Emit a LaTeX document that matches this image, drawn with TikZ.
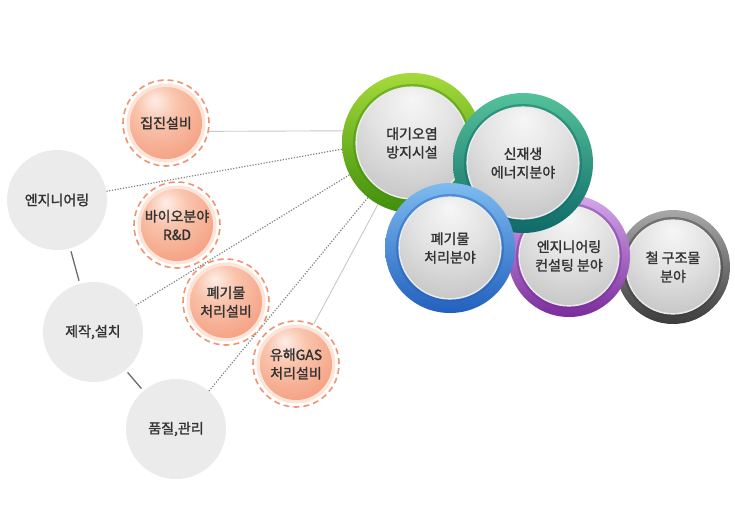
\documentclass[tikz,border=0pt]{standalone}
\usepackage{fontspec}
\newfontfamily\kr[BoldFont={Noto Sans CJK KR}, BoldFeatures={FakeBold=1.5}]{Noto Sans CJK KR}
\usetikzlibrary{backgrounds}
\definecolor{txt}{HTML}{333333}
\definecolor{grayfill}{HTML}{EBEBEB}
\definecolor{peachA}{HTML}{F9C4AC}
\definecolor{peachB}{HTML}{F29272}
\definecolor{peachC}{HTML}{E97553}
\definecolor{halo}{HTML}{FCE4D9}
\definecolor{dashc}{HTML}{F2936F}
\definecolor{grA}{HTML}{A5DA3A}
\definecolor{grB}{HTML}{3F8E0C}
\definecolor{tlA}{HTML}{55C29A}
\definecolor{tlB}{HTML}{0E6A68}
\definecolor{blA}{HTML}{7DBBF0}
\definecolor{blB}{HTML}{2260BE}
\definecolor{puA}{HTML}{D4A8EA}
\definecolor{puB}{HTML}{7A2C9C}
\definecolor{stA}{HTML}{A8A8A8}
\definecolor{stB}{HTML}{3C3C3C}
\definecolor{s0}{HTML}{F6F6F6}
\definecolor{s1}{HTML}{E3E3E3}
\definecolor{s2}{HTML}{C2C2C2}
\definecolor{s3}{HTML}{959595}
\definecolor{s4}{HTML}{878787}
\definecolor{s5}{HTML}{ABABAB}
\pgfdeclareradialshading{silver}{\pgfpoint{0bp}{20bp}}{color(0bp)=(s0); color(18bp)=(s1); color(40bp)=(s2); color(56bp)=(s3); color(67bp)=(s4); color(71bp)=(s5); color(80bp)=(s5)}
\pgfdeclareradialshading{peach}{\pgfpoint{-8bp}{16bp}}{color(0bp)=(white!70!peachA); color(14bp)=(peachA); color(45bp)=(peachB); color(66bp)=(peachC); color(80bp)=(peachC)}
\tikzset{
  lbl/.style={text=txt, font=\kr\bfseries\fontsize{14}{18.5}\selectfont, align=center},
  graycirc/.style={lbl, circle, fill=grayfill, minimum size=100pt, inner sep=0pt},
  orangecirc/.style={lbl, circle, minimum size=86pt, inner sep=0pt, fill=white,
    draw=dashc, line width=1.6pt, dash pattern=on 6pt off 4pt,
    path picture={
      \fill[halo] (path picture bounding box.center) circle[radius=39.5pt];
      \shade[shading=peach] (path picture bounding box.center) circle[radius=36pt];
    }},
  bigring/.style n args={4}{lbl, circle, minimum size=#1, inner sep=0pt,
    top color=#2, bottom color=#3,
    path picture={
      \fill[#3, opacity=0.45] (path picture bounding box.center) circle[radius=#4pt+4pt];
      \fill[white!92!black] (path picture bounding box.center) circle[radius=#4pt+1.6pt];
      \shade[shading=silver] (path picture bounding box.center) circle[radius=#4pt];
    }},
  solidlink/.style={draw=black!22, line width=0.9pt},
  dotlink/.style={draw=black!50, line width=1.2pt, dash pattern=on 1.2pt off 1.6pt},
  chain/.style={draw=black!58, line width=1.3pt, shorten >=3pt, shorten <=3pt}
}
\begin{document}
\begin{tikzpicture}[x=1pt,y=-1pt]
\useasboundingbox (0,0) rectangle (735,512);
% left gray circles
\node[graycirc] (eng) at (57,200) {엔지니어링};
\node[graycirc] (make) at (93,332) {제작,설치};
\node[graycirc] (qual) at (176,429) {품질,관리};
% orange circles
\node[orangecirc] (dust) at (166,123) {집진설비};
\node[orangecirc] (bio) at (177,225) {바이오분야\\R\&D};
\node[orangecirc] (waste) at (226,302) {폐기물\\처리설비};
\node[orangecirc] (gas) at (296,364) {유해GAS\\처리설비};
% big rings
\node[bigring={114pt}{stA}{stB}{46}] (steel) at (673,267) {철 구조물\\분야};
\node[bigring={122pt}{puA}{puB}{49}] (consult) at (569,256) {엔지니어링\\컨설팅 분야};
\node[bigring={140pt}{grA}{grB}{55}] (air) at (412,143) {대기오염\\방지시설};
\node[bigring={140pt}{tlA}{tlB}{55}] (renew) at (523,163) {신재생\\에너지분야};
\node[bigring={130pt}{blA}{blB}{50}] (wastef) at (450,248) {폐기물\\처리분야};
\begin{scope}[on background layer]
  \draw[chain] (eng) -- (make);
  \draw[chain] (make) -- (qual);
  \draw[solidlink] (dust.-11) -- (air.170);
  \draw[solidlink] (gas.66) -- (air.241);
  \draw[dotlink] (eng.10) -- (air.185);
  \draw[dotlink] (make.32) -- (air.207);
  \draw[dotlink] (qual.49) -- (air.231);
\end{scope}
\end{tikzpicture}
\end{document}
